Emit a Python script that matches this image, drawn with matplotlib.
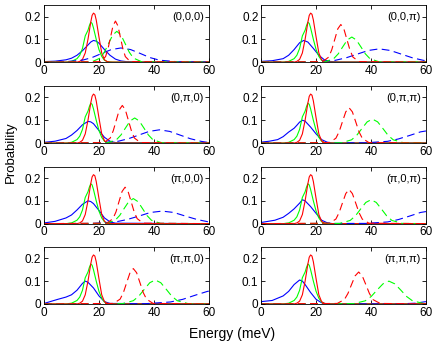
import matplotlib
matplotlib.use("Agg")
import matplotlib.pyplot as plt

plt.rcParams['font.family'] = ['Liberation Sans', 'DejaVu Sans']

# panel labels (wave vector), row by row
panel_labels = ['(0,0,0)', '(0,0,π)', '(0,π,0)', '(0,π,π)',
                '(π,0,0)', '(π,0,π)', '(π,π,0)', '(π,π,π)']

# solid red / green are the same in every panel
red_solid_E = [0, 12, 13, 14, 15, 16, 17, 17.5, 18, 18.5, 19, 20, 21, 22, 23, 24, 60]
red_solid_P = [0, 0, 0.003, 0.012, 0.04, 0.1, 0.175, 0.205, 0.215, 0.21, 0.185, 0.11, 0.04, 0.01, 0.002, 0, 0]

green_solid_E = [0, 8, 10, 12, 13, 14, 15, 16, 16.5, 17, 17.5, 18, 19, 20, 21, 22, 23, 25, 60]
green_solid_P = [0, 0, 0.003, 0.015, 0.03, 0.06, 0.115, 0.14, 0.16, 0.175, 0.17, 0.15, 0.1, 0.055, 0.025, 0.008, 0.002, 0, 0]

# solid blue, one (E, P) pair per panel
blue_solid = [
    ([0, 4, 8, 10, 12, 14, 16, 17, 18, 19, 20, 22, 24, 26, 28, 30, 35, 60],
     [0.002, 0.004, 0.01, 0.017, 0.03, 0.05, 0.075, 0.088, 0.095, 0.092, 0.083, 0.055, 0.03, 0.013, 0.005, 0.002, 0, 0]),
    ([0, 4, 8, 10, 12, 14, 15.5, 17, 19, 21, 23, 25, 28, 60],
     [0.003, 0.006, 0.015, 0.03, 0.055, 0.085, 0.095, 0.088, 0.06, 0.03, 0.01, 0.003, 0, 0]),
    ([0, 4, 8, 10, 12, 14, 16, 17, 18, 20, 22, 24, 26, 60],
     [0.003, 0.008, 0.02, 0.035, 0.055, 0.08, 0.095, 0.093, 0.085, 0.055, 0.025, 0.008, 0.002, 0]),
    ([0, 3, 6, 8, 10, 12, 13, 14, 15, 16, 18, 20, 22, 24, 26, 60],
     [0.004, 0.008, 0.015, 0.028, 0.048, 0.065, 0.078, 0.092, 0.1, 0.096, 0.07, 0.04, 0.015, 0.004, 0, 0]),
    ([0, 4, 8, 10, 12, 14, 16, 17, 18, 20, 22, 24, 26, 60],
     [0.003, 0.01, 0.025, 0.038, 0.06, 0.085, 0.1, 0.097, 0.088, 0.058, 0.025, 0.008, 0.002, 0]),
    ([0, 5, 8, 10, 12, 14, 15, 16, 18, 20, 22, 24, 26, 60],
     [0.005, 0.015, 0.028, 0.045, 0.065, 0.09, 0.105, 0.1, 0.075, 0.045, 0.015, 0.004, 0, 0]),
    ([0, 5, 8, 10, 12, 14, 15, 16, 18, 20, 22, 24, 60],
     [0.002, 0.02, 0.03, 0.04, 0.06, 0.09, 0.1, 0.095, 0.07, 0.035, 0.01, 0.002, 0]),
    ([0, 4, 8, 10, 12, 14, 15, 16, 18, 20, 22, 24, 60],
     [0.01, 0.015, 0.035, 0.055, 0.085, 0.105, 0.1, 0.085, 0.05, 0.02, 0.005, 0, 0]),
]

# dashed red, one (E, P) pair per panel
red_dash = [
    ([0, 20.6, 22.4, 23.3, 24.2, 25.1, 26, 26.9, 27.8, 28.7, 29.6, 31.4, 60],
     [0, 0.002, 0.024, 0.059, 0.109, 0.159, 0.18, 0.159, 0.109, 0.059, 0.024, 0.002, 0]),
    ([0, 22.4, 24.6, 25.7, 26.8, 27.9, 29, 30.1, 31.2, 32.3, 33.4, 35.6, 60],
     [0, 0.002, 0.022, 0.054, 0.1, 0.146, 0.165, 0.146, 0.1, 0.054, 0.022, 0.002, 0]),
    ([0, 21.9, 24.1, 25.2, 26.3, 27.4, 28.5, 29.6, 30.7, 31.8, 32.9, 35.1, 60],
     [0, 0.002, 0.022, 0.054, 0.1, 0.146, 0.165, 0.146, 0.1, 0.054, 0.022, 0.002, 0]),
    ([0, 24.8, 27.2, 28.4, 29.6, 30.8, 32, 33.2, 34.4, 35.6, 36.8, 39.2, 60],
     [0, 0.002, 0.021, 0.05, 0.094, 0.137, 0.155, 0.137, 0.094, 0.05, 0.021, 0.002, 0]),
    ([0, 22.9, 25.1, 26.2, 27.3, 28.4, 29.5, 30.6, 31.7, 32.8, 33.9, 36.1, 60],
     [0, 0.002, 0.022, 0.052, 0.097, 0.141, 0.16, 0.141, 0.097, 0.052, 0.022, 0.002, 0]),
    ([0, 24.8, 27.2, 28.4, 29.6, 30.8, 32, 33.2, 34.4, 35.6, 36.8, 39.2, 60],
     [0, 0.002, 0.02, 0.049, 0.091, 0.132, 0.15, 0.132, 0.091, 0.049, 0.02, 0.002, 0]),
    ([0, 25.3, 27.7, 28.9, 30.1, 31.3, 32.5, 33.7, 34.9, 36.1, 37.3, 39.7, 60],
     [0, 0.002, 0.021, 0.05, 0.094, 0.137, 0.155, 0.137, 0.094, 0.05, 0.021, 0.002, 0]),
    ([0, 27.7, 30.3, 31.6, 32.9, 34.2, 35.5, 36.8, 38.1, 39.4, 40.7, 43.3, 60],
     [0, 0.002, 0.019, 0.046, 0.085, 0.123, 0.14, 0.123, 0.085, 0.046, 0.019, 0.002, 0]),
]

# dashed green, one (E, P) pair per panel
green_dash = [
    ([0, 17.5, 20.5, 22, 23.5, 25, 26.5, 28, 29.5, 31, 32.5, 35.5, 60],
     [0, 0.0015, 0.018, 0.044, 0.082, 0.119, 0.135, 0.119, 0.082, 0.044, 0.018, 0.0015, 0]),
    ([0, 23.1, 26.4, 28.05, 29.7, 31.35, 33, 34.65, 36.3, 37.95, 39.6, 42.9, 60],
     [0, 0.001, 0.015, 0.036, 0.067, 0.097, 0.11, 0.097, 0.067, 0.036, 0.015, 0.001, 0]),
    ([0, 23.1, 26.4, 28.05, 29.7, 31.35, 33, 34.65, 36.3, 37.95, 39.6, 42.9, 60],
     [0, 0.001, 0.015, 0.036, 0.067, 0.097, 0.11, 0.097, 0.067, 0.036, 0.015, 0.001, 0]),
    ([0, 29.1, 32.9, 34.8, 36.7, 38.6, 40.5, 42.4, 44.3, 46.2, 48.1, 51.9, 60],
     [0, 0.001, 0.014, 0.034, 0.064, 0.093, 0.105, 0.093, 0.064, 0.034, 0.014, 0.001, 0]),
    ([0, 22.6, 25.9, 27.55, 29.2, 30.85, 32.5, 34.15, 35.8, 37.45, 39.1, 42.4, 60],
     [0, 0.001, 0.015, 0.036, 0.067, 0.097, 0.11, 0.097, 0.067, 0.036, 0.015, 0.001, 0]),
    ([0, 28.6, 32.4, 34.3, 36.2, 38.1, 40, 41.9, 43.8, 45.7, 47.6, 51.4, 60],
     [0, 0.001, 0.014, 0.034, 0.064, 0.093, 0.105, 0.093, 0.064, 0.034, 0.014, 0.001, 0]),
    ([0, 28.5, 32.5, 34.5, 36.5, 38.5, 40.5, 42.5, 44.5, 46.5, 48.5, 52.5, 60],
     [0, 0.001, 0.014, 0.034, 0.064, 0.093, 0.105, 0.093, 0.064, 0.034, 0.014, 0.001, 0]),
    ([0, 33.6, 37.9, 40.05, 42.2, 44.35, 46.5, 48.65, 50.8, 52.95, 55.1, 59.4, 60],
     [0, 0.001, 0.0135, 0.0325, 0.061, 0.088, 0.1, 0.088, 0.061, 0.0325, 0.0135, 0.001, 0]),
]

# dashed blue, one (E, P) pair per panel
blue_dash = [
    ([0, 7, 14, 17.5, 21, 24.5, 28, 31.5, 35, 38.5, 42, 49, 60],
     [0, 0.001, 0.0084, 0.02, 0.038, 0.055, 0.062, 0.055, 0.038, 0.02, 0.0084, 0.001, 0]),
    ([0, 19, 27, 31, 35, 39, 43, 47, 51, 55, 59, 60],
     [0, 0.001, 0.0078, 0.019, 0.035, 0.051, 0.058, 0.051, 0.035, 0.019, 0.0078, 0.006]),
    ([0, 19.5, 27, 30.75, 34.5, 38.25, 42, 45.75, 49.5, 53.25, 57, 60],
     [0, 0.001, 0.0078, 0.019, 0.035, 0.051, 0.058, 0.051, 0.035, 0.019, 0.0078, 0.002]),
    ([0, 38, 46, 50, 54, 58, 60],
     [0, 0.001, 0.0074, 0.018, 0.033, 0.049, 0.053]),
    ([0, 17.5, 26, 30.25, 34.5, 38.75, 43, 47.25, 51.5, 55.75, 60],
     [0, 0.001, 0.0074, 0.018, 0.033, 0.049, 0.055, 0.049, 0.033, 0.018, 0.0074]),
    ([0, 38, 46, 50, 54, 58, 60],
     [0, 0.001, 0.0074, 0.018, 0.033, 0.049, 0.053]),
    ([0, 37, 46, 50.5, 55, 59.5, 60],
     [0, 0.001, 0.0084, 0.02, 0.038, 0.055, 0.056]),
    ([0, 50, 56, 60],
     [0, 0, 0.003, 0.01]),
]

fig = plt.figure(figsize=(4.36, 3.43), dpi=100)

lefts = [0.101, 0.599]
bottoms = [0.819, 0.583, 0.348, 0.114]
w, h = 0.378, 0.166
lw = 0.8
dash = (0, (7, 4))

for i, label in enumerate(panel_labels):
    row, col = divmod(i, 2)
    ax = fig.add_axes([lefts[col], bottoms[row], w, h])

    ax.plot(blue_solid[i][0], blue_solid[i][1], color='#0000ff', lw=lw)
    ax.plot(green_solid_E, green_solid_P, color='#00ff00', lw=lw)
    ax.plot(red_solid_E, red_solid_P, color='#ff0000', lw=lw)
    ax.plot(blue_dash[i][0], blue_dash[i][1], color='#0000ff', lw=lw, linestyle=dash)
    ax.plot(green_dash[i][0], green_dash[i][1], color='#00ff00', lw=lw, linestyle=dash)
    ax.plot(red_dash[i][0], red_dash[i][1], color='#ff0000', lw=lw, linestyle=dash)

    ax.set_xlim(0, 60)
    ax.set_ylim(0, 0.25)
    ax.set_xticks([0, 20, 40, 60])
    ax.set_yticks([0, 0.1, 0.2])
    ax.set_yticklabels(['0', '0.1', '0.2'])
    ax.tick_params(direction='in', top=True, right=True, length=3, width=0.6,
                   labelsize=8.5, pad=2)
    for s in ax.spines.values():
        s.set_linewidth(0.6)
    ax.text(0.97, 0.79, label, transform=ax.transAxes, ha='right', va='center',
            fontsize=8)

fig.text(0.025, 0.557, 'Probability', rotation=90, ha='center', va='center', fontsize=9.5)
fig.text(0.532, 0.026, 'Energy (meV)', ha='center', va='center', fontsize=10)

fig.savefig('out.png', dpi=100)
